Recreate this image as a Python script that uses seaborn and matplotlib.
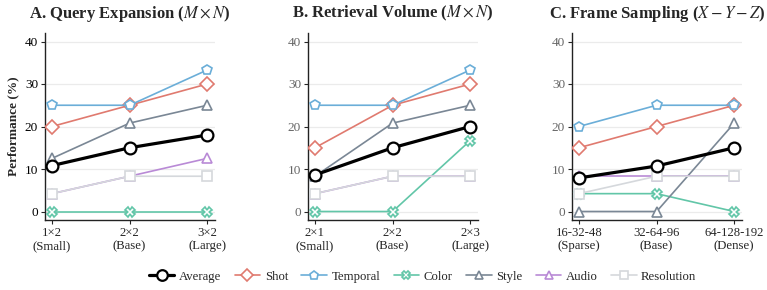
import pandas as pd
import matplotlib
matplotlib.use('Agg')
import matplotlib.pyplot as plt
import seaborn as sns

series = ['Average', 'Shot', 'Temporal', 'Color', 'Style', 'Audio', 'Resolution']

# panel A: query expansion
qe_ticks = ['1×2\n(Small)', '2×2\n(Base)', '3×2\n(Large)']
qe_average = [10.8, 15.0, 18.0]
qe_shot = [20.0, 25.0, 30.0]
qe_temporal = [25.0, 25.0, 33.3]
qe_color = [0.0, 0.0, 0.0]
qe_style = [12.5, 20.8, 25.0]
qe_audio = [4.2, 8.3, 12.5]
qe_resolution = [4.2, 8.3, 8.3]

# panel B: retrieval volume
rv_ticks = ['2×1\n(Small)', '2×2\n(Base)', '2×3\n(Large)']
rv_average = [8.6, 15.0, 20.0]
rv_shot = [15.0, 25.0, 30.0]
rv_temporal = [25.0, 25.0, 33.3]
rv_color = [0.0, 0.0, 16.7]
rv_style = [8.3, 20.8, 25.0]
rv_audio = [4.2, 8.3, 8.3]
rv_resolution = [4.2, 8.3, 8.3]

# panel C: frame sampling
fs_ticks = ['16-32-48\n(Sparse)', '32-64-96\n(Base)', '64-128-192\n(Dense)']
fs_average = [7.9, 10.7, 15.0]
fs_shot = [15.0, 20.0, 25.0]
fs_temporal = [20.0, 25.0, 25.0]
fs_color = [4.2, 4.2, 0.0]
fs_style = [0.0, 0.0, 20.8]
fs_audio = [8.3, 8.3, 8.3]
fs_resolution = [4.2, 8.3, 8.3]

colors = {'Average': '#000000', 'Shot': '#E07A6F', 'Temporal': '#6BAED8',
          'Color': '#62C6A8', 'Style': '#7A8795', 'Audio': '#B98AD6',
          'Resolution': '#D5D8DC'}
markers = {'Average': 'o', 'Shot': 'D', 'Temporal': 'p', 'Color': 'X',
           'Style': '^', 'Audio': '^', 'Resolution': 's'}


def make_df(ticks, vals):
    rows = []
    for name, v in zip(series, vals):
        for i, y in enumerate(v):
            rows.append({'x': i, 'label': ticks[i], 'series': name, 'value': y})
    return pd.DataFrame(rows)


def style_kw(name, scale=1.0):
    avg = name == 'Average'
    return dict(color=colors[name], marker=markers[name],
                markersize=(8.5 if avg else 7) * scale, markerfacecolor='white',
                markeredgecolor=colors[name],
                markeredgewidth=1.6 if avg else 1.2,
                linewidth=2.3 if avg else 1.2)


panels = [
    ('A. Query Expansion ($M\\times N$)', qe_ticks,
     [qe_average, qe_shot, qe_temporal, qe_color, qe_style, qe_audio, qe_resolution]),
    ('B. Retrieval Volume ($M\\times N$)', rv_ticks,
     [rv_average, rv_shot, rv_temporal, rv_color, rv_style, rv_audio, rv_resolution]),
    ('C. Frame Sampling ($X-Y-Z$)', fs_ticks,
     [fs_average, fs_shot, fs_temporal, fs_color, fs_style, fs_audio, fs_resolution]),
]

sns.set_style('white')
plt.rcParams['font.family'] = ['Liberation Serif', 'DejaVu Serif']
plt.rcParams['mathtext.fontset'] = 'stix'

W, H = 767, 290
fig = plt.figure(figsize=(7.67, 2.9), dpi=100)
lefts = [45, 308, 572]
axes = [fig.add_axes([l / W, 1 - 220 / H, 170 / W, 187 / H]) for l in lefts]

for k, (ax, (title, ticks, vals)) in enumerate(zip(axes, panels)):
    df = make_df(ticks, vals)
    for name in series[1:] + series[:1]:
        sub = df[df.series == name]
        sns.lineplot(data=sub, x='x', y='value', ax=ax, label=name,
                     zorder=5 if name == 'Average' else 3, legend=False,
                     **style_kw(name))
    ax.set_xlim(-0.09, 2.1)
    ax.set_ylim(-2, 42)
    ax.set_xticks([0, 1, 2])
    ax.set_xticklabels(ticks, fontsize=9.2, linespacing=1.1)
    ax.set_yticks([0, 10, 20, 30, 40])
    ax.tick_params(axis='y', labelsize=9.5, length=3, width=0.8, pad=2,
                   labelcolor='black' if k == 0 else '#666666', left=True)
    ax.tick_params(axis='x', length=3, width=0.8, pad=2, bottom=True)
    ax.grid(axis='y', color='#EBEBEB', linewidth=0.9)
    ax.set_axisbelow(True)
    sns.despine(ax=ax)
    for s in ['left', 'bottom']:
        ax.spines[s].set_color('#222222')
        ax.spines[s].set_linewidth(1.0)
    ax.set_xlabel('')
    ax.set_ylabel('Performance (%)' if k == 0 else '', fontsize=9.5,
                  fontweight='bold', labelpad=4)
    ax.set_title(title, fontsize=12, fontweight='bold', pad=11)

handles = []
for name in series:
    h, = axes[0].plot([], [], **style_kw(name, 0.9))
    handles.append(h)
fig.legend(handles, series, loc='center', ncol=7, frameon=False,
           fontsize=9.2, bbox_to_anchor=(0.551, 0.045), columnspacing=1.05,
           handlelength=2.0, handletextpad=0.35)

fig.savefig('out.png', dpi=100)
